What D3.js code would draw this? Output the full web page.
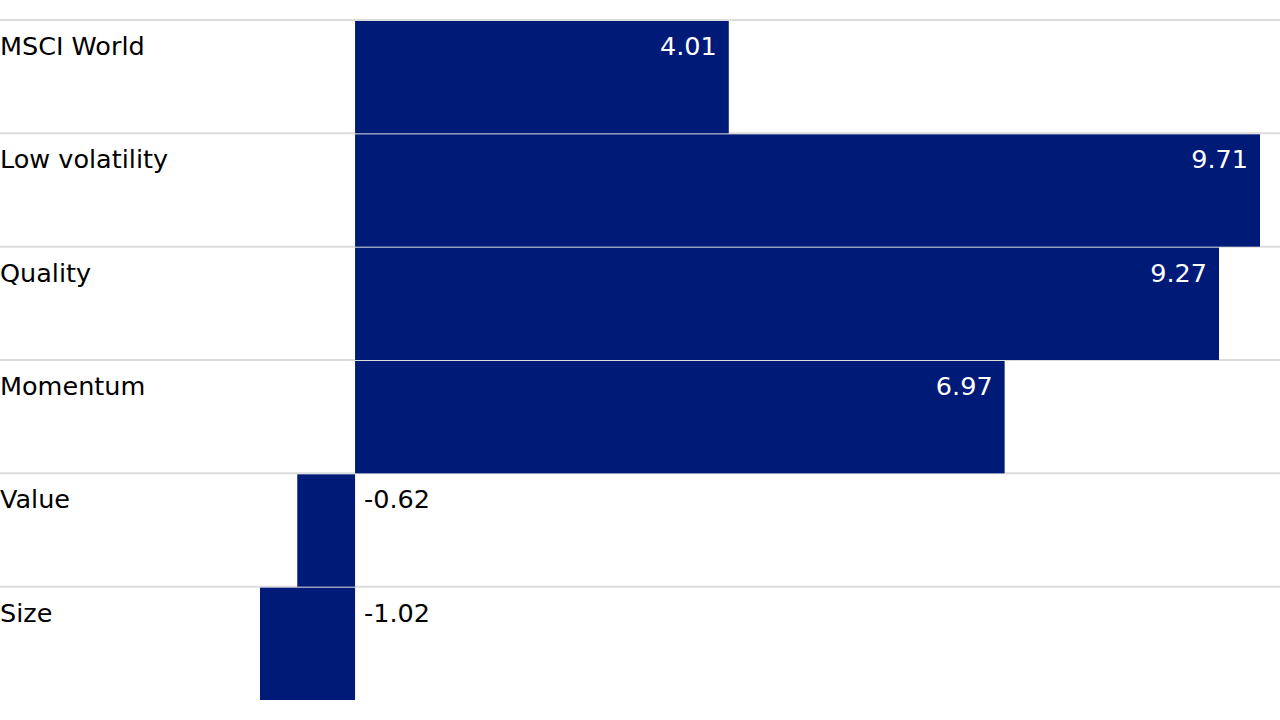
<!DOCTYPE html>
<html>
<head>
<meta charset="utf-8">
<script src="https://cdn.jsdelivr.net/npm/d3@7"></script>
<style>
  body { margin: 0; background: #fff; }
  svg { display: block; font-family: "DejaVu Sans", sans-serif; }
</style>
</head>
<body>
<svg id="chart" width="1280" height="720"></svg>
<script>
// factor returns, one row per category
const categories = ["MSCI World", "Low volatility", "Quality", "Momentum", "Value", "Size"]
const values = [4.01, 9.71, 9.27, 6.97, -0.62, -1.02]

const svg = d3.select("#chart")
const WIDTH = +svg.attr("width")
const BAR_COLOR = "#001A78"
const GRID_COLOR = "#dcdcdc"

// zero sits at x=355, 9.71 reaches ~1260
let x = d3.scaleLinear()
    .domain([-1.02, 9.71])
    .range([260, 1260])

let y = d3.scaleBand()
    .domain(categories)
    .range([20, 700])
    .padding(0)
const dy = y.bandwidth()

// horizontal separators at the top of every row
svg.append("g")
    .selectAll("line")
    .data(categories)
    .join("line")
    .attr("x1", 0)
    .attr("x2", WIDTH)
    .attr("y1", d => y(d))
    .attr("y2", d => y(d))
    .style("stroke", GRID_COLOR)
    .style("stroke-width", 2)

// bars
svg.append("g")
    .selectAll("rect")
    .data(values)
    .join("rect")
    .attr("x", d => x(Math.min(0, d)))
    .attr("y", (d, i) => y(categories[i]) + 1)
    .attr("width", d => Math.abs(x(d) - x(0)))
    .attr("height", dy - 1)
    .style("fill", BAR_COLOR)

// category labels
svg.append("g")
    .selectAll("text")
    .data(categories)
    .join("text")
    .attr("x", 0)
    .attr("y", d => y(d) + 35)
    .style("font-size", "25.5px")
    .style("fill", "#000")
    .text(d => d)

// value labels: inside the bar for positives, right of zero for negatives
svg.append("g")
    .selectAll("text")
    .data(values)
    .join("text")
    .attr("x", d => d >= 0 ? x(d) - 12 : x(0) + 9)
    .attr("y", (d, i) => y(categories[i]) + 35)
    .style("text-anchor", d => d >= 0 ? "end" : "start")
    .style("font-size", "25.5px")
    .style("fill", d => d >= 0 ? "#fff" : "#000")
    .text(d => d.toFixed(2))
</script>
</body>
</html>
